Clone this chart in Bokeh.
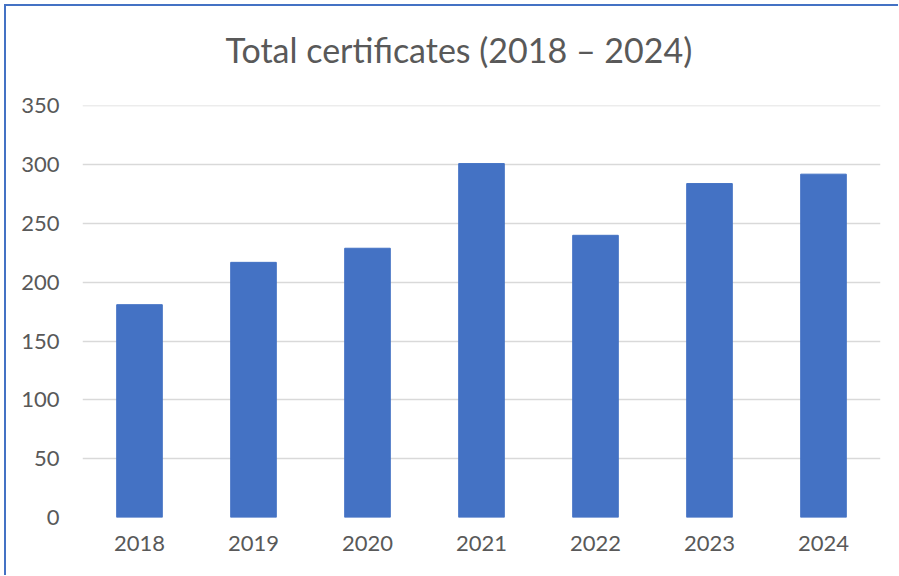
from bokeh.plotting import figure
from bokeh.layouts import column
from bokeh.embed import file_html
from bokeh.resources import INLINE
from bokeh.models import Range1d, Title

years = ["2018", "2019", "2020", "2021", "2022", "2023", "2024"]
certificates = [181, 217, 229, 301, 240, 284, 292]
y_ticks = [0, 50, 100, 150, 200, 250, 300, 350]
title_text = "Total certificates (2018 \u2013 2024)"

TEXT = "#595959"
FONT = "Lato"

p = figure(
    x_range=years,
    y_range=Range1d(0, 350.4),
    width=892,
    height=569,
    output_backend="svg",
    toolbar_location=None,
    min_border_left=76,
    min_border_right=18,
    min_border_top=99,
    min_border_bottom=58,
)

p.vbar(x=years, top=certificates, width=0.4, fill_color="#4472C4", line_color="#4472C4")

# spacer title between the real title and the frame
p.add_layout(Title(text=" ", text_font_size="29px", standoff=0), "above")
p.add_layout(Title(text=title_text, text_font=FONT, text_font_size="34px",
                   text_font_style="normal", text_color=TEXT, align="left",
                   offset=143, standoff=0, vertical_align="top"), "above")

p.yaxis.ticker = y_ticks
p.yaxis.major_label_text_font = FONT
p.yaxis.major_label_text_font_size = "22px"
p.yaxis.major_label_text_color = TEXT
p.yaxis.major_label_standoff = 23
p.xaxis.major_label_text_font = FONT
p.xaxis.major_label_text_font_size = "22px"
p.xaxis.major_label_text_color = TEXT
p.xaxis.major_label_standoff = 18

for ax in (p.xaxis, p.yaxis):
    ax.axis_line_color = None
    ax.major_tick_line_color = None
    ax.minor_tick_line_color = None
    ax.major_tick_out = 0
    ax.major_tick_in = 0
    ax.minor_tick_out = 0
    ax.minor_tick_in = 0

p.xgrid.grid_line_color = None
p.ygrid.grid_line_color = "#D9D9D9"
p.ygrid.grid_line_width = 1.5
p.outline_line_color = None
p.x_range.range_padding = 0.0

layout = column(p, styles={"border-left": "2px solid #4472C4", "border-top": "2px solid #4472C4",
                           "margin-left": "4px", "margin-top": "4px"})

open("out.html", "w").write(file_html(layout, INLINE))
